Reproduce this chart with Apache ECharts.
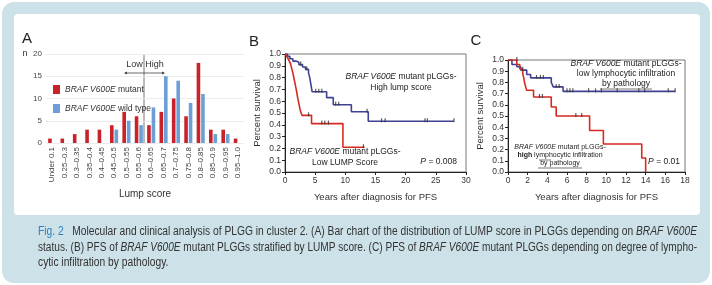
<!DOCTYPE html>
<html>
<head>
<meta charset="utf-8">
<script src="https://cdn.jsdelivr.net/npm/echarts@6/dist/echarts.min.js"></script>
<style>
  html, body { margin: 0; padding: 0; background: #fff; }
  #chart { width: 712px; height: 285px; }
</style>
</head>
<body>
<div id="chart"></div>
<script>
// Panel A - LUMP score distribution
const lumpBins = ['Under 0.1', '0.25–0.3', '0.3–0.35', '0.35–0.4', '0.4–0.45', '0.45–0.5',
  '0.5–0.55', '0.55–0.6', '0.6–0.65', '0.65–0.7', '0.7–0.75', '0.75–0.8', '0.8–0.85',
  '0.85–0.9', '0.9–0.95', '0.95–1.0'];
const mutantCounts = [1, 1, 2, 3, 3, 4, 7, 6, 4, 7, 10, 6, 18, 3, 3, 1];
const wildTypeCounts = [0, 0, 0, 0, 0, 3, 5, 4, 8, 15, 14, 9, 11, 2, 2, 0];

// Panel B - PFS by LUMP score (years, survival)
const lowLumpPfs = [[0, 1], [0.3, 0.98], [0.6, 0.95], [0.9, 0.92], [1.1, 0.88], [1.3, 0.84],
  [1.5, 0.79], [1.7, 0.74], [1.9, 0.69], [2.1, 0.63], [2.3, 0.58], [2.5, 0.53], [2.8, 0.48],
  [4.4, 0.41], [9.6, 0.21], [13.2, 0.21]];
const lowLumpCensored = [[3.9, 0.48], [6.1, 0.41], [6.6, 0.41], [7.2, 0.41], [13.0, 0.21]];
const highLumpPfs = [[0, 1], [0.4, 0.98], [0.8, 0.96], [1.3, 0.94], [1.8, 0.93], [2.3, 0.91],
  [2.9, 0.89], [3.4, 0.87], [3.9, 0.84], [4.1, 0.80], [4.3, 0.74], [4.5, 0.68], [6.9, 0.63],
  [8.0, 0.57], [11.0, 0.51], [13.8, 0.43], [28.0, 0.43]];
const highLumpCensored = [[2.6, 0.91], [3.6, 0.87], [5.1, 0.68], [5.6, 0.68], [6.1, 0.68],
  [8.4, 0.57], [8.9, 0.57], [13.6, 0.51], [16.0, 0.43], [16.6, 0.43], [23.2, 0.43],
  [23.6, 0.43], [28.0, 0.43]];

// Panel C - PFS by lymphocytic infiltration
const highLymphPfs = [[0, 1], [0.9, 0.96], [1.2, 0.92], [1.5, 0.88], [1.6, 0.84], [1.7, 0.79],
  [1.9, 0.73], [2.6, 0.67], [4.4, 0.58], [4.9, 0.50], [8.3, 0.37], [9.7, 0.25], [13.6, 0.125],
  [14.0, 0]];
const highLymphCensored = [[0.9, 1.0], [3.2, 0.67], [3.5, 0.67], [6.9, 0.50], [7.5, 0.50]];
const lowLymphPfs = [[0, 1], [0.4, 0.96], [0.9, 0.94], [1.3, 0.91], [1.9, 0.87], [2.3, 0.84],
  [4.4, 0.80], [4.6, 0.76], [5.6, 0.72], [17.0, 0.72]];
const lowLymphCensored = [[1.5, 0.91], [2.9, 0.84], [3.3, 0.84], [3.6, 0.84], [4.9, 0.76],
  [5.2, 0.76], [6.0, 0.72], [6.3, 0.72], [6.6, 0.72], [8.2, 0.72], [8.9, 0.72], [9.5, 0.72],
  [11.1, 0.72], [13.3, 0.72], [13.9, 0.72], [16.3, 0.72], [17.0, 0.72]];

// Figure caption, one entry per printed line
const captionLines = [
  '{f|Fig. 2}   Molecular and clinical analysis of PLGG in cluster 2. (A) Bar chart of the distribution of LUMP score in PLGGs depending on {i|BRAF V600E}',
  'status. (B) PFS of {i|BRAF V600E} mutant PLGGs stratified by LUMP score. (C) PFS of {i|BRAF V600E} mutant PLGGs depending on degree of lympho-',
  'cytic infiltration by pathology.'
];

const SANS = "'Liberation Sans', Arial, sans-serif";
const RED = '#d42a20';
const NAVY = '#3f4192';
const CAP_SIZE = 12;

const chart = echarts.init(document.getElementById('chart'), null, { renderer: 'canvas' });

// measure a rich caption line so it can be squeezed to the column width (condensed look)
const measureCtx = document.createElement('canvas').getContext('2d');
function captionWidth(line) {
  let w = 0;
  line.split(/(\{\w\|[^}]*\})/).forEach(part => {
    if (!part) return;
    const m = part.match(/^\{(\w)\|([^}]*)\}$/);
    measureCtx.font = (m && m[1] === 'i' ? 'italic ' : '') + CAP_SIZE + 'px ' + SANS;
    w += measureCtx.measureText(m ? m[2] : part).width;
  });
  return w;
}
const captionColumn = 659;
const captionScales = captionLines.map(l => captionColumn / captionWidth(l));
captionScales[2] = captionScales[0];

function kmAxis(gridIndex, max, interval) {
  return {
    type: 'value', gridIndex, min: 0, max, interval,
    axisLine: { show: true, lineStyle: { color: '#222', width: 1 } },
    axisTick: { show: true, length: 3, lineStyle: { color: '#222' } },
    axisLabel: { fontSize: 8.5, color: '#333', fontFamily: SANS, margin: 4 },
    splitLine: { show: false }
  };
}
function survAxis(gridIndex) {
  return {
    type: 'value', gridIndex, min: 0, max: 1, interval: 0.1,
    axisLine: { show: true, lineStyle: { color: '#222', width: 1 } },
    axisTick: { show: true, length: 3, lineStyle: { color: '#222' } },
    axisLabel: { fontSize: 8.5, color: '#333', fontFamily: SANS, margin: 4,
      formatter: v => v.toFixed(1) },
    splitLine: { show: false }
  };
}
function kmLine(name, data, color, idx) {
  return { name, type: 'line', step: 'end', data, xAxisIndex: idx, yAxisIndex: idx,
    showSymbol: false, lineStyle: { color, width: 1.6 }, itemStyle: { color }, z: 3 };
}
function censorMarks(name, data, idx) {
  return { name, type: 'scatter', data, xAxisIndex: idx, yAxisIndex: idx,
    symbol: 'rect', symbolSize: [1.2, 4], symbolOffset: [0, -1],
    itemStyle: { color: '#333' }, z: 4 };
}

const underline = (x1, x2, y) => ({ type: 'line', silent: true,
  shape: { x1, y1: y, x2, y2: y }, style: { stroke: '#555', lineWidth: 0.8 } });

const captionText = (i, y) => ({
  type: 'text', x: 38, y, scaleX: captionScales[i], style: {
    text: captionLines[i], font: `${CAP_SIZE}px ${SANS}`, fill: '#333', textVerticalAlign: 'middle',
    rich: {
      f: { font: `${CAP_SIZE}px ${SANS}`, fill: '#2c7fc0' },
      i: { font: `italic ${CAP_SIZE}px ${SANS}`, fill: '#333' }
    } } });

const option = {
  animation: false,
  grid: [
    { left: 46, top: 54, width: 198, height: 89 },
    { left: 285, top: 54, width: 181, height: 118, show: true, borderColor: '#777', borderWidth: 1 },
    { left: 508, top: 60, width: 177, height: 112, show: true, borderColor: '#777', borderWidth: 1 }
  ],
  legend: {
    data: ['BRAF V600E mutant', 'BRAF V600E wild type'],
    orient: 'vertical', left: 48, top: 80, itemWidth: 7, itemHeight: 9, itemGap: 10,
    icon: 'rect',
    formatter: name => '{i|BRAF V600E}' + name.slice(10),
    textStyle: { fontSize: 8.5, color: '#333', fontFamily: SANS,
      rich: { i: { fontStyle: 'italic', fontSize: 8.5, color: '#333', fontFamily: SANS } } }
  },
  xAxis: [
    { type: 'category', gridIndex: 0, data: lumpBins,
      axisLine: { show: false }, axisTick: { show: false },
      axisLabel: { rotate: 90, fontSize: 8, color: '#444', fontFamily: SANS, margin: 4, interval: 0 },
      name: 'Lump score', nameLocation: 'middle', nameGap: 46,
      nameTextStyle: { fontSize: 10, color: '#333', fontFamily: SANS } },
    Object.assign(kmAxis(1, 30, 5), {
      name: 'Years after diagnosis for PFS', nameLocation: 'middle', nameGap: 20,
      nameTextStyle: { fontSize: 9.5, color: '#333', fontFamily: SANS } }),
    Object.assign(kmAxis(2, 18, 2), {
      name: 'Years after diagnosis for PFS', nameLocation: 'middle', nameGap: 20,
      nameTextStyle: { fontSize: 9.5, color: '#333', fontFamily: SANS } })
  ],
  yAxis: [
    { type: 'value', gridIndex: 0, min: 0, max: 20, interval: 5,
      axisLine: { show: false }, axisTick: { show: false },
      axisLabel: { fontSize: 8, color: '#444', fontFamily: SANS, margin: 4 },
      splitLine: { lineStyle: { color: '#ececec', width: 1 } } },
    Object.assign(survAxis(1), {
      name: 'Percent survival', nameLocation: 'middle', nameGap: 23,
      nameTextStyle: { fontSize: 9.5, color: '#333', fontFamily: SANS } }),
    Object.assign(survAxis(2), {
      name: 'Percent survival', nameLocation: 'middle', nameGap: 23,
      nameTextStyle: { fontSize: 9.5, color: '#333', fontFamily: SANS } })
  ],
  series: [
    { name: 'BRAF V600E mutant', type: 'bar', data: mutantCounts, xAxisIndex: 0, yAxisIndex: 0,
      barWidth: 3.6, barGap: '25%', itemStyle: { color: '#c9222a' } },
    { name: 'BRAF V600E wild type', type: 'bar', data: wildTypeCounts, xAxisIndex: 0, yAxisIndex: 0,
      barWidth: 3.6, barGap: '25%', itemStyle: { color: '#6b9fd6' } },
    kmLine('High lump score', highLumpPfs, NAVY, 1),
    kmLine('Low LUMP score', lowLumpPfs, RED, 1),
    censorMarks('High lump censored', highLumpCensored, 1),
    censorMarks('Low LUMP censored', lowLumpCensored, 1),
    kmLine('Low lymphocytic infiltration', lowLymphPfs, NAVY, 2),
    kmLine('High lymphocytic infiltration', highLymphPfs, RED, 2),
    censorMarks('Low lymph censored', lowLymphCensored, 2),
    censorMarks('High lymph censored', highLymphCensored, 2)
  ],
  graphic: [
    // frame: blue outer panel with white figure card
    { type: 'rect', z: -10, silent: true, shape: { x: 2, y: 2, width: 708, height: 281, r: 12 },
      style: { fill: '#cde1e8' } },
    { type: 'rect', z: -9, silent: true, shape: { x: 14, y: 14, width: 686, height: 201, r: 4 },
      style: { fill: '#ffffff' } },
    // panel letters
    { type: 'text', x: 27, y: 39, style: { text: 'A', font: `15px ${SANS}`, fill: '#222',
      textAlign: 'center', textVerticalAlign: 'middle' } },
    { type: 'text', x: 25, y: 54, style: { text: 'n', font: `9px ${SANS}`, fill: '#333',
      textAlign: 'center', textVerticalAlign: 'middle' } },
    { type: 'text', x: 254, y: 42, style: { text: 'B', font: `15px ${SANS}`, fill: '#222',
      textAlign: 'center', textVerticalAlign: 'middle' } },
    { type: 'text', x: 476, y: 41, style: { text: 'C', font: `15px ${SANS}`, fill: '#222',
      textAlign: 'center', textVerticalAlign: 'middle' } },
    // Low / High cut-off in panel A
    { type: 'line', silent: true, shape: { x1: 144, y1: 55, x2: 144, y2: 143 },
      style: { stroke: '#777', lineWidth: 1 } },
    { type: 'line', silent: true, shape: { x1: 125, y1: 73, x2: 164, y2: 73 },
      style: { stroke: '#444', lineWidth: 0.8 } },
    { type: 'polygon', silent: true, shape: { points: [[124, 73], [127, 71.5], [127, 74.5]] },
      style: { fill: '#444' } },
    { type: 'polygon', silent: true, shape: { points: [[165, 73], [162, 71.5], [162, 74.5]] },
      style: { fill: '#444' } },
    { type: 'text', x: 145, y: 65, style: { text: 'Low High', font: `9px ${SANS}`, fill: '#333',
      textAlign: 'center', textVerticalAlign: 'middle' } },
    // panel B annotations
    { type: 'text', x: 401, y: 82, style: { text: '{i|BRAF V600E} mutant pLGGs-\nHigh lump score',
      font: `8.5px ${SANS}`, fill: '#222', textAlign: 'center', textVerticalAlign: 'middle', lineHeight: 11,
      rich: { i: { font: `italic 8.5px ${SANS}`, fill: '#222' } } } },
    { type: 'text', x: 345, y: 157, style: { text: '{i|BRAF V600E} mutant pLGGs-\nLow LUMP Score',
      font: `8.5px ${SANS}`, fill: '#222', textAlign: 'center', textVerticalAlign: 'middle', lineHeight: 11,
      rich: { i: { font: `italic 8.5px ${SANS}`, fill: '#222' } } } },
    { type: 'text', x: 457, y: 162, style: { text: '{i|P} = 0.008', font: `8.5px ${SANS}`, fill: '#222',
      textAlign: 'right', textVerticalAlign: 'middle',
      rich: { i: { font: `italic 8.5px ${SANS}`, fill: '#222' } } } },
    // panel C annotations
    { type: 'text', x: 626, y: 74, style: {
      text: '{i|BRAF V600E} mutant pLGGs-\nlow lymphocytic infiltration\nby pathology',
      font: `8.5px ${SANS}`, fill: '#222', textAlign: 'center', textVerticalAlign: 'middle', lineHeight: 10,
      rich: { i: { font: `italic 8.5px ${SANS}`, fill: '#222' } } } },
    underline(600, 652, 89),
    { type: 'text', x: 560, y: 155, style: {
      text: '{i|BRAF V600E} mutant pLGGs-\n{b|high} lymphocytic infiltration\nby pathology',
      font: `7px ${SANS}`, fill: '#222', textAlign: 'center', textVerticalAlign: 'middle', lineHeight: 8,
      rich: { i: { font: `italic 7px ${SANS}`, fill: '#222' }, b: { font: `bold 7px ${SANS}`, fill: '#222' } } } },
    underline(539, 551, 160),
    underline(538, 582, 168),
    { type: 'text', x: 680, y: 162, style: { text: '{i|P} = 0.01', font: `8.5px ${SANS}`, fill: '#222',
      textAlign: 'right', textVerticalAlign: 'middle',
      rich: { i: { font: `italic 8.5px ${SANS}`, fill: '#222' } } } },
    // caption
    captionText(0, 232),
    captionText(1, 248),
    captionText(2, 263)
  ]
};

chart.setOption(option);
</script>
</body>
</html>
